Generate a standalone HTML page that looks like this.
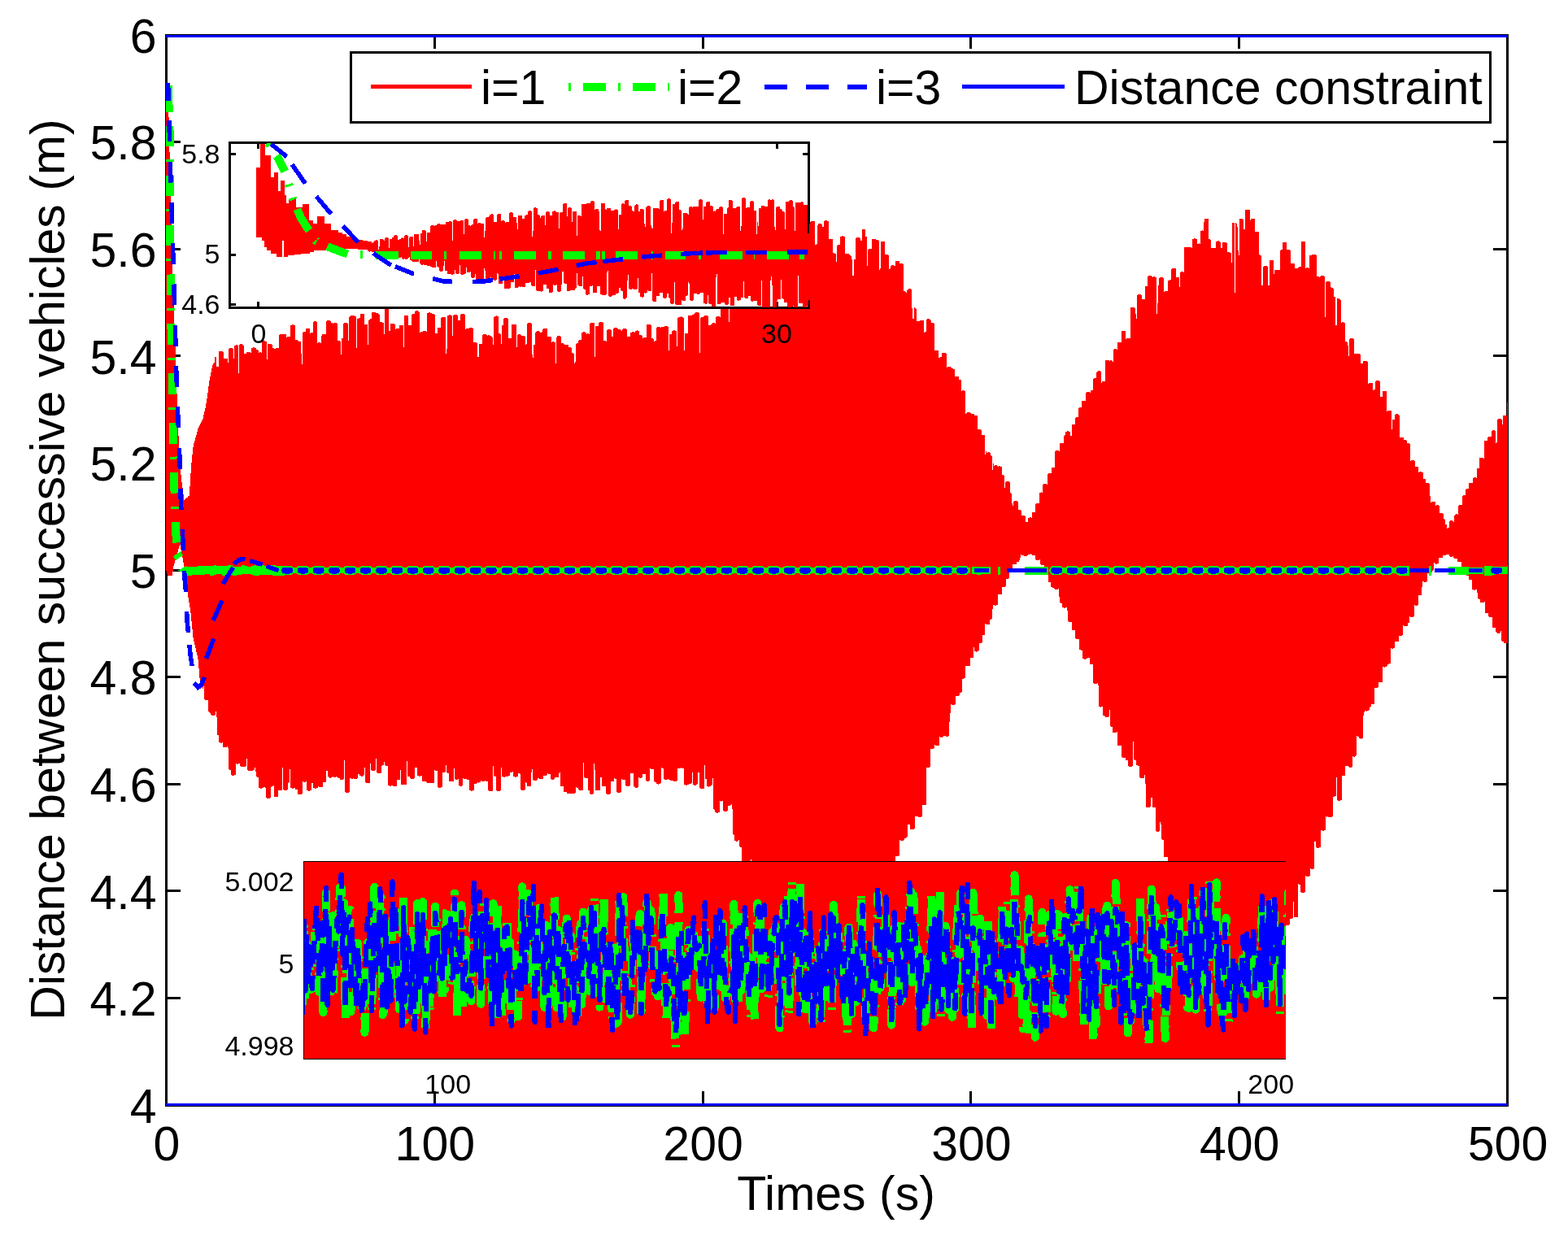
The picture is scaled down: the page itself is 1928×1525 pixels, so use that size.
<!DOCTYPE html>
<html lang="en"><head><meta charset="utf-8"><title>Distance between successive vehicles</title>
<style>
html,body{margin:0;padding:0;background:#fff;}
body{width:1928px;height:1525px;overflow:hidden;font-family:"Liberation Sans",sans-serif;}
svg{display:block;}
</style></head><body>
<svg width="1928" height="1525" viewBox="0 0 1928 1525" shape-rendering="crispEdges">
<rect width="1928" height="1525" fill="#fff"/>
<rect x="204.5" y="43.5" width="1649" height="1316" fill="none" stroke="#000" stroke-width="3"/>
<path d="M534.5 1358V1342M534.5 45V60M864.5 1358V1342M864.5 45V60M1193.5 1358V1342M1193.5 45V60M1523.5 1358V1342M1523.5 45V60M206 1227.5H222M1852 1227.5H1836M206 1095.5H222M1852 1095.5H1836M206 964.5H222M1852 964.5H1836M206 832.5H222M1852 832.5H1836M206 701.5H222M1852 701.5H1836M206 569.5H222M1852 569.5H1836M206 437.5H222M1852 437.5H1836M206 306.5H222M1852 306.5H1836M206 174.5H222M1852 174.5H1836" stroke="#000" stroke-width="3" fill="none"/>
<clipPath id="c0"><rect x="204" y="45" width="1650" height="1314"/></clipPath>
<g clip-path="url(#c0)">
<path id="red" d="M204 108H205V114H206V119H207V144H208V187H209V231H210V274H211V318H212V345H213V372H214V399H215V426H216V455H217V484H218V513H219V536H220V552H221V568H222V584H223V593H224V600H225V608H226V615H227V614H228V613H229V612H231V610H233V598H234V582H235V569H236V559H237V550H238V545H239V542H240V538H241V535H242V531H243V527H244V525H245V523H246V521H247V519H248V517H249V515H250V510H251V506H252V502H253V496H254V490H255V483H256V475H257V468H258V463H259V458H260V453H261V449H262V447H263V446H264V439H266V451H269V432H274V433H275V441H280V446H281V429H282V428H286V429H287V441H288V425H290V424H292V425H293V459H294V424H295V423H298V424H299V425H300V435H303V433H308V434H309V428H311V427H313V428H315V430H317V431H318V434H319V433H321V434H322V420H323V419H326V420H328V442H329V423H334V424H335V428H337V429H339V428H343V412H344V411H352V415H353V414H357V400H359V399H361V400H363V418H366V419H367V420H370V435H371V448H372V409H373V408H376V404H381V410H382V409H385V396H386V395H389V396H390V422H391V421H394V422H395V413H396V411H401V395H402V394H406V395H407V397H409V398H410V397H414V398H415V419H418V420H419V436H420V416H422V398H423V397H427V398H428V419H429V390H430V389H431V388H436V389H438V428H439V392H441V391H443V386H448V399H452V424H453V394H454V393H455V392H457V384H462V385H465V386H466V387H467V396H470V397H472V411H473V380H478V407H480V398H485V399H486V405H487V404H491V400H496V427H497V388H502V400H506V387H507V386H510V383H511V382H514V383H515V384H516V409H517V408H520V407H524V408H525V385H527V384H529V385H531V386H534V387H535V410H538V403H542V391H543V390H548V435H549V429H550V388H552V387H554V388H556V413H557V388H558V387H562V388H563V394H566V387H567V386H571V387H572V405H573V404H577V403H581V404H582V421H586V422H587V439H589V423H593V412H594V411H598V412H599V413H600V412H602V413H604V414H605V415H606V424H607V390H608V389H610V388H611V389H613V410H615V411H616V423H617V400H619V392H620V391H624V392H625V416H629V399H635V427H636V412H637V411H640V412H641V413H645V414H646V424H647V423H648V398H649V397H653V398H654V436H655V440H656V424H658V409H659V408H660V407H663V408H664V409H666V408H667V405H668V404H673V414H678V421H679V420H681V421H683V447H684V415H685V413H689V414H690V422H693V423H694V424H699V427H702V428H703V434H705V435H706V447H707V445H708V423H709V422H711V419H712V418H715V409H717V408H719V409H721V411H722V410H724V411H725V398H726V397H731V439H732V401H736V397H737V396H741V397H742V419H745V420H746V406H747V405H751V406H752V414H754V404H755V403H759V404H760V405H763V406H764V407H765V405H766V404H770V405H771V414H775V409H777V408H780V409H781V407H783V406H784V407H786V412H789V413H790V416H791V415H795V399H800V400H801V416H803V417H804V420H805V419H807V403H808V402H812V403H813V402H817V401H821V402H822V431H823V411H826V407H828V406H830V407H832V426H833V391H834V390H837V389H838V390H840V391H841V431H842V410H846V388H851V387H853V386H854V385H855V384H859V385H860V434H861V391H862V390H865V389H866V388H870V389H871V400H874V399H875V398H876V397H879V398H880V390H881V389H885V390H886V354H887V353H889V348H891V347H893V348H895V349H896V396H897V348H900V349H901V344H902V343H905V344H906V349H909V350H910V349H911V348H914V349H915V337H917V333H918V332H922V333H923V350H927V375H928V350H929V349H933V323H934V322H939V336H940V318H941V317H942V316H945V317H946V355H947V315H949V314H951V315H953V319H958V290H959V289H961V281H962V280H965V281H966V292H967V291H969V292H970V293H971V284H973V283H976V284H977V298H979V299H980V335H981V290H982V289H984V279H986V278H988V279H990V301H991V300H994V301H995V315H996V273H997V272H1002V301H1004V300H1005V277H1006V275H1010V276H1011V279H1013V272H1014V271H1017V272H1019V294H1024V311H1026V312H1028V322H1029V302H1030V301H1033V291H1035V290H1037V291H1039V312H1044V313H1045V314H1046V315H1047V319H1048V339H1050V319H1052V293H1053V292H1057V293H1058V296H1060V282H1064V291H1066V327H1067V307H1068V306H1072V294H1077V295H1080V296H1081V332H1082V330H1083V297H1088V313H1092V314H1093V331H1094V330H1095V327H1096V326H1099V327H1101V321H1106V324H1110V325H1111V358H1113V359H1114V360H1115V357H1116V356H1117V355H1120V356H1121V379H1122V392H1124V378H1125V379H1126V380H1127V395H1131V394H1136V409H1137V408H1139V393H1140V392H1143V393H1144V394H1145V397H1148V398H1149V431H1154V440H1156V439H1158V434H1163V435H1164V452H1165V451H1169V452H1170V453H1172V454H1174V463H1179V467H1182V481H1183V480H1186V481H1187V509H1188V508H1189V507H1193V508H1194V509H1198V511H1202V528H1206V529H1207V535H1211V559H1212V555H1213V557H1214V556H1217V557H1218V560H1219V561H1220V578H1221V570H1222V573H1223V572H1226V573H1227V574H1228V573H1230V574H1232V584H1234V585H1235V600H1236V593H1237V592H1241V593H1242V606H1243V607H1244V619H1245V622H1246V617H1247V616H1251V617H1252V627H1255V628H1256V634H1260V635H1261V642H1264V637H1266V636H1268V637H1269V630H1273V620H1274V619H1278V606H1280V605H1281V606H1282V596H1283V595H1287V596H1288V583H1289V582H1293V575H1297V555H1298V554H1302V555H1303V545H1308V536H1309V535H1310V531H1312V530H1314V531H1316V536H1318V522H1322V514H1323V513H1326V502H1327V501H1330V493H1335V483H1336V482H1340V483H1341V480H1344V466H1345V465H1348V458H1349V457H1350V456H1353V457H1354V471H1355V469H1359V443H1364V444H1365V443H1367V444H1368V445H1369V430H1370V429H1373V430H1374V421H1379V407H1384V417H1385V416H1390V378H1395V379H1396V386H1397V392H1398V363H1399V362H1403V363H1404V368H1408V352H1411V340H1412V339H1416V340H1417V341H1418V340H1420V341H1422V386H1423V373H1424V351H1425V342H1426V341H1430V342H1431V359H1432V358H1436V345H1438V344H1440V331H1441V330H1446V341H1450V353H1451V335H1452V334H1455V335H1456V304H1465V305H1466V294H1468V293H1470V294H1472V300H1474V299H1475V300H1476V284H1478V283H1479V284H1480V273H1481V269H1486V294H1488V295H1489V305H1495V297H1497V296H1499V297H1500V298H1501V305H1503V298H1508V299H1509V310H1512V311H1514V323H1515V274H1518V360H1519V274H1520V275H1521V279H1522V308H1523V314H1524V269H1528V270H1529V282H1531V258H1537V271H1538V269H1543V285H1548V313H1549V314H1551V351H1553V328H1554V327H1558V328H1559V351H1561V320H1566V337H1567V332H1574V308H1575V307H1577V298H1582V307H1586V308H1587V324H1592V330H1596V329H1597V328H1600V297H1605V330H1606V329H1609V330H1610V314H1613V313H1618V314H1619V340H1622V341H1623V340H1624V339H1628V340H1629V390H1630V347H1631V346H1635V347H1636V353H1637V354H1639V355H1640V365H1642V400H1644V367H1647V368H1648V369H1649V397H1650V396H1652V397H1654V420H1656V421H1657V425H1658V438H1659V417H1660V416H1664V417H1665V435H1672V436H1673V447H1676V444H1681V445H1682V472H1683V471H1688V480H1689V479H1691V469H1692V468H1696V469H1697V488H1700V481H1705V506H1706V505H1711V528H1712V516H1715V510H1716V509H1719V510H1720V511H1721V538H1726V541H1729V542H1730V545H1733V546H1734V567H1735V566H1739V567H1740V574H1744V581H1745V580H1748V581H1750V589H1753V594H1757V595H1758V610H1759V618H1760V617H1765V622H1766V621H1769V622H1770V631H1774V632H1775V638H1776V639H1777V645H1779V650H1780V649H1782V641H1783V640H1786V641H1787V642H1788V634H1789V633H1790V632H1792V633H1793V622H1794V621H1798V610H1799V609H1802V602H1803V601H1806V594H1811V588H1812V587H1815V588H1816V576H1819V563H1824V564H1825V542H1829V538H1830V537H1834V530H1835V529H1838V530H1839V545H1840V544H1841V516H1842V515H1846V516H1847V522H1848V511H1853V495H1854V791H1849V789H1847V788H1846V776H1845V778H1844V779H1841V778H1840V777H1839V772H1835V759H1831V758H1830V754H1826V740H1825V741H1820V737H1818V736H1817V729H1816V725H1814V726H1812V725H1810V713H1806V708H1803V699H1801V700H1799V699H1798V698H1797V691H1792V687H1788V686H1787V684H1786V685H1783V684H1782V682H1778V683H1774V686H1769V693H1767V694H1765V693H1764V692H1763V701H1762V702H1761V704H1760V705H1758V706H1757V705H1755V715H1754V716H1751V715H1749V722H1748V732H1744V744H1743V745H1740V744H1739V758H1738V759H1734V758H1733V766H1731V770H1726V769H1725V781H1724V782H1720V789H1715V797H1713V798H1711V797H1710V816H1708V817H1706V819H1705V820H1703V821H1702V820H1700V839H1695V845H1694V846H1690V866H1686V869H1685V870H1684V873H1683V874H1681V875H1680V874H1678V876H1677V880H1676V908H1674V909H1673V908H1671V906H1669V905H1668V929H1667V930H1666V931H1664V930H1663V943H1662V944H1659V943H1658V942H1654V954H1650V984H1648V985H1645V984H1644V956H1643V979H1641V980H1639V1004H1638V1005H1633V1004H1632V1005H1631V1004H1630V1021H1628V1022H1626V1021H1624V1042H1622V1043H1619V1042H1618V1035H1616V1068H1615V1069H1612V1068H1611V1077H1610V1078H1606V1077H1605V1097H1604V1098H1600V1097H1599V1088H1597V1087H1596V1128H1591V1109H1590V1129H1589V1130H1586V1137H1585V1138H1581V1141H1580V1142H1576V1141H1575V1149H1574V1150H1571V1149H1570V1148H1569V1141H1568V1140H1567V1128H1566V1160H1565V1161H1562V1160H1561V1145H1560V1146H1558V1152H1557V1153H1554V1159H1553V1160H1550V1159H1549V1158H1548V1128H1547V1160H1546V1161H1542V1172H1537V1160H1536V1161H1533V1160H1530V1173H1529V1174H1525V1173H1524V1170H1520V1169H1519V1165H1514V1154H1510V1153H1509V1148H1506V1147H1505V1146H1501V1145H1500V1151H1494V1137H1491V1124H1490V1121H1489V1122H1485V1132H1484V1133H1479V1126H1477V1125H1476V1111H1473V1110H1472V1095H1471V1092H1470V1120H1469V1121H1465V1120H1464V1113H1462V1112H1461V1111H1460V1107H1456V1085H1455V1086H1453V1085H1451V1071H1447V1070H1446V1061H1442V1069H1440V1070H1438V1069H1436V1054H1431V1033H1429V1032H1428V1014H1427V1011H1426V1022H1425V1023H1422V1022H1421V993H1417V981H1415V992H1414V993H1409V964H1408V953H1407V957H1402V956H1401V942H1399V941H1397V935H1395V934H1394V912H1393V942H1392V943H1388V942H1387V935H1384V932H1380V931H1379V917H1374V900H1373V901H1368V894H1366V893H1365V873H1364V881H1363V882H1359V881H1358V880H1356V869H1354V870H1353V869H1351V843H1350V840H1349V841H1345V840H1344V817H1340V809H1337V810H1335V811H1333V810H1331V800H1329V799H1327V786H1323V785H1322V775H1318V765H1314V764H1313V751H1312V747H1310V748H1308V747H1306V742H1304V741H1303V734H1302V724H1301V725H1297V724H1296V723H1294V722H1292V716H1289V702H1288V703H1285V702H1284V695H1280V694H1279V688H1278V689H1274V688H1273V683H1269V682H1268V681H1267V682H1264V683H1263V684H1259V683H1256V682H1255V686H1254V689H1253V691H1250V694H1245V702H1241V711H1240V712H1237V721H1236V722H1232V731H1227V744H1225V745H1223V744H1221V749H1220V761H1219V762H1217V768H1212V767H1211V781H1208V790H1207V791H1204V800H1203V801H1201V802H1200V801H1198V796H1197V809H1193V819H1187V834H1185V835H1183V851H1182V852H1180V855H1179V856H1175V866H1174V867H1170V866H1169V877H1168V888H1167V905H1166V906H1163V905H1160V906H1159V907H1156V906H1155V917H1150V916H1149V920H1148V921H1144V943H1143V944H1139V990H1134V1004H1133V1005H1129V1004H1125V1019H1124V1020H1119V1014H1116V1029H1115V1030H1114V1031H1112V1033H1111V1034H1107V1033H1106V1052H1105V1053H1101V1069H1100V1070H1098V1085H1097V1086H1093V1085H1092V1060H1091V1099H1083V1098H1082V1114H1077V1082H1076V1107H1075V1108H1073V1120H1072V1122H1068V1121H1067V1127H1062V1116H1061V1117H1054V1126H1049V1125H1048V1123H1043V1116H1040V1082H1039V1086H1038V1122H1037V1123H1036V1124H1034V1126H1033V1127H1030V1126H1029V1121H1026V1123H1025V1124H1020V1093H1019V1102H1018V1119H1014V1124H1013V1125H1010V1124H1006V1123H1005V1086H1004V1118H999V1110H994V1107H991V1129H989V1130H986V1129H985V1125H982V1124H981V1106H977V1124H973V1123H972V1107H967V1095H964V1094H963V1085H962V1108H957V1109H952V1105H950V1104H948V1075H947V1117H943V1118H942V1119H938V1118H937V1103H935V1104H933V1122H928V1121H927V1089H926V1088H924V1057H923V1071H918V1072H917V1073H914V1072H912V1042H910V1041H909V1033H908V1034H907V1035H905V1034H903V1027H902V1026H901V995H900V989H899V990H898V991H895V997H894V998H890V997H889V985H887V986H886V985H885V999H883V1000H881V999H879V996H878V995H877V957H876V965H875V966H874V967H872V968H871V967H869V958H867V941H866V970H861V969H860V950H858V964H857V965H856V966H853V965H852V950H851V963H850V964H847V965H845V966H843V965H841V945H838V944H837V945H833V960H832V961H828V960H824V959H822V958H821V959H817V958H816V945H814V944H813V963H812V964H810V965H809V964H807V962H805V961H804V946H800V945H799V960H798V961H795V960H794V952H790V956H789V957H786V956H785V968H784V969H781V968H780V967H779V951H775V966H774V967H770V966H769V959H765V958H764V974H763V975H759V974H758V958H756V957H755V961H751V976H750V977H746V976H745V967H740V956H738V972H732V947H731V939H730V976H729V977H726V976H725V972H723V957H719V956H718V938H717V972H712V971H711V969H709V968H708V975H707V976H697V974H693V967H689V950H688V951H687V956H682V958H681V959H678V958H677V952H674V951H673V953H672V954H668V958H663V957H661V959H660V960H656V959H655V946H654V950H653V967H648V963H647V962H646V971H645V972H641V971H640V952H639V951H637V955H635V956H633V955H631V949H630V950H627V954H625V955H621V956H619V955H617V944H616V972H615V973H611V972H610V955H608V954H607V942H606V973H601V972H600V961H597V960H596V961H592V960H591V962H589V963H588V962H587V963H586V964H583V972H581V973H579V972H577V959H574V958H570V957H569V966H568V967H565V966H564V958H563V959H560V958H559V945H558V961H552V951H550V950H549V941H548V949H547V950H544V968H542V969H539V968H538V948H535V947H534V963H525V962H524V961H519V954H517V955H515V954H513V944H510V957H509V958H505V957H504V955H501V936H500V965H493V947H492V959H488V967H483V966H481V967H479V966H477V942H474V941H473V937H472V941H470V942H469V951H464V950H463V933H462V947H461V948H457V947H456V939H455V963H450V962H449V944H448V953H447V954H446V955H444V954H442V952H440V957H439V958H435V957H434V958H432V957H430V974H429V975H425V974H424V935H423V958H422V959H418V957H416V956H414V955H413V956H410V955H409V956H407V957H405V956H404V955H403V948H401V962H397V968H392V967H391V969H389V970H387V969H385V963H383V972H381V973H379V972H377V961H376V962H373V961H372V976H371V977H366V971H363V969H361V970H359V969H357V946H356V962H355V963H354V971H353V972H349V971H348V944H347V972H342V980H337V966H336V967H334V968H333V981H332V982H328V981H327V969H326V968H324V969H322V970H320V969H318V956H316V955H315V949H314V944H313V947H311V948H305V947H304V933H303V942H302V943H296V942H295V939H293V940H291V939H290V953H288V954H285V953H284V947H282V946H281V920H280V918H279V919H274V913H273V914H271V913H269V904H267V882H266V875H265V879H264V880H260V879H259V877H258V876H257V875H256V861H252V860H251V844H250V847H249V844H248V841H247V838H246V834H245V822H244V811H243V806H242V802H241V797H240V793H239V789H238V784H237V774H236V764H235V754H234V747H233V741H232V735H231V728H230V720H229V712H228V704H227V697H226V692H225V686H224V681H223V676H222V670H221V672H220V675H219V679H218V682H217V686H216V689H215V693H214V696H213V703H212V708H206V706H205V702H204Z" fill="#f00"/>
<path d="M206.7 105.0L207.8 138.0M208.3 154.8L208.5 160.0L208.5 180.3M207.7 135.3L207.8 138.3M208.5 215.7L208.5 220.0L208.7 241.2M208.5 196.2L208.5 199.2M208.9 276.6L209.0 290.0L209.1 302.1M208.8 257.1L208.8 260.1M209.6 337.5L209.7 350.0L209.9 363.0M209.3 318.0L209.4 321.0M210.4 398.4L210.6 410.0L210.9 423.9M210.1 378.9L210.2 381.9M211.6 459.3L211.8 470.0L212.0 484.8M211.2 439.8L211.3 442.8M212.6 520.2L212.8 530.0L213.1 545.7M212.3 500.7L212.4 503.7M213.9 581.1L214.2 593.0L214.6 606.6M213.5 561.6L213.6 564.6M215.8 642.0L216.2 655.0L217.2 667.5M215.2 622.5L215.2 625.5" stroke="#0f0" stroke-width="10" fill="none"/>
<path d="M214.5 686.5L223.5 680.5" stroke="#0f0" stroke-width="6" fill="none"/>
<path d="M219 701.5L229 696V707Z" fill="#0f0"/>
<path d="M228 697H243V696H263V695H266V696H280V695H286V697H297V695H301V696H304V697H309V696H312V695H315V696H319V695H325V696H330V695H339V696H350V708H335V707H319V708H312V707H309V706H297V707H291V708H286V707H280V708H273V706H266V707H263V708H258V706H252V707H236V708H228ZM1195 697H1218V706H1206V707H1201V706H1195ZM1834 697H1853V696H1854V706H1839V707H1834Z" fill="#0f0"/>
<path d="M350 701.5H1193M1293 701.5H1720" stroke="#0f0" stroke-width="7.5" fill="none"/>
<path d="M350 701.5H1192M1296 701.5H1722" stroke="#0f0" stroke-width="11.6" stroke-linecap="round" stroke-dasharray="6.3 13" fill="none"/>
<path d="M1226.5 696.5h3.5v10h-3.5zM1260 696.5h28.5v10h-28.5zM1720 695.5h13v12h-13zM1757 695.5h3v12h-3zM1781 696.5h25v10h-25zM1824.5 695.5h10v12h-10zM1806 697.5h18v8h-18z" fill="#0f0"/>
<path d="M206.6 102.0L207.2 124.0M207.8 148.3L208.6 174.3M209.3 198.6L209.6 211.0L210.1 224.6M210.9 248.9L211.3 262.0L211.7 274.9M212.4 299.2L212.8 312.0L213.2 325.2M213.8 349.5L214.2 363.0L214.6 375.5M215.3 399.8L215.7 413.0L216.0 425.8M216.6 450.1L217.0 464.0L217.5 476.1M218.4 500.4L218.9 514.0L219.4 526.4M220.4 550.7L221.0 565.0L221.3 576.7M221.9 601.0L222.3 615.0L222.9 627.0M224.2 651.3L224.9 665.0L225.5 677.3M226.6 701.6L227.0 711.0L228.3 725.0L228.4 727.6M229.6 751.9L230.2 765.0L231.5 777.9M232.9 793.0L234.2 806.0L236.1 819.0M238.5 840L243.5 845.5L247.5 842L251.5 833M253.5 810L262.8 785.5M262.2 763L273 738.7M274.2 718L286.7 697.7M287.9 694Q294 686.5 301.6 687.6M307.3 689.7L322.7 694.2M327.2 696.5L342.6 701.5" stroke="#00f" stroke-width="5.5" fill="none"/>
<path d="M350 701.5H1192M1296 701.5H1730M1837 701.5H1853" stroke="#00f" stroke-width="8" stroke-linecap="round" stroke-dasharray="5.6 13.7" stroke-dashoffset="-0.35" fill="none"/>
<path d="M1198 701.5H1216M1237.5 701.7H1286.5M1733 701.7H1757M1763.5 701.7H1788.6M1806 701.7H1823.4" stroke="#00f" stroke-width="5.4" fill="none"/>
</g>
<path d="M204 44.5H1854M204 1358.5H1854" stroke="#00f" stroke-width="3" fill="none"/>
<g font-family="'Liberation Sans', sans-serif" font-size="59.0" fill="#000">
<text x="205.0" y="1427" text-anchor="middle">0</text>
<text x="534.8" y="1427" text-anchor="middle">100</text>
<text x="864.6" y="1427" text-anchor="middle">200</text>
<text x="1194.4" y="1427" text-anchor="middle">300</text>
<text x="1524.2" y="1427" text-anchor="middle">400</text>
<text x="1854.0" y="1427" text-anchor="middle">500</text>
<text x="192.5" y="1380.8" text-anchor="end">4</text>
<text x="192.5" y="1249.2" text-anchor="end">4.2</text>
<text x="192.5" y="1117.6" text-anchor="end">4.4</text>
<text x="192.5" y="986.0" text-anchor="end">4.6</text>
<text x="192.5" y="854.4" text-anchor="end">4.8</text>
<text x="192.5" y="722.8" text-anchor="end">5</text>
<text x="192.5" y="591.2" text-anchor="end">5.2</text>
<text x="192.5" y="459.6" text-anchor="end">5.4</text>
<text x="192.5" y="328.0" text-anchor="end">5.6</text>
<text x="192.5" y="196.4" text-anchor="end">5.8</text>
<text x="192.5" y="64.8" text-anchor="end">6</text>
<text x="1028" y="1488" text-anchor="middle">Times (s)</text>
<text transform="translate(78.7,700.5) rotate(-90)" text-anchor="middle">Distance between successive vehicles (m)</text>
</g>
<g id="legend">
<rect x="431.5" y="64.5" width="1401" height="86" fill="#fff" stroke="#000" stroke-width="3"/>
<path d="M456 106.5H580" stroke="#f00" stroke-width="5"/>
<path d="M699 107H823" stroke="#0f0" stroke-width="10" stroke-dasharray="3 15 28 15"/>
<path d="M940 106.5H1066" stroke="#00f" stroke-width="6" stroke-dasharray="28 23"/>
<path d="M1183 106.5H1309" stroke="#00f" stroke-width="5"/>
<g font-family="'Liberation Sans', sans-serif" font-size="59.0" fill="#000">
<text x="591" y="128">i=1</text>
<text x="833" y="128">i=2</text>
<text x="1077" y="128">i=3</text>
<text x="1321" y="128">Distance constraint</text>
</g></g>
<g id="inset1">
<rect x="282.5" y="175.5" width="712.0" height="203.0" fill="#fff" stroke="#000" stroke-width="3"/>
<path d="M317.5 177V183M955.5 177V183M317.5 377V371M955.5 377V371M284 189.5H290M284 313.5H290M284 374.5H290M993 189.5H987M993 313.5H987M993 374.5H987" stroke="#000" stroke-width="3" fill="none"/>
<clipPath id="c1"><rect x="282" y="176" width="714" height="202"/></clipPath>
<g clip-path="url(#c1)">
<path d="M315 206H320V177H326V191H333V218H337V212H342V235H345V222H350V240H352V250H355V244H364V255H372V251H380V271H385V275H390V266H399V275H407V283H416V286H421V288H426V291H432V293H438V295H446V296H452V297H457V299H458V298H460V296H462V295H464V296H465V307H466V303H467V294H471V295H472V296H473V293H474V292H477V293H478V305H479V294H482V292H484V290H485V289H488V290H489V295H491V294H493V293H494V292H495V293H497V290H498V289H501V290H502V304H503V292H504V291H508V303H509V288H515V296H516V301H517V287H519V283H523V284H524V297H525V286H529V278H530V277H534V278H535V277H537V276H538V275H541V276H548V273H552V272H555V273H556V296H557V271H558V270H561V271H562V272H566V271H570V288H571V270H572V269H575V270H576V277H578V278H579V277H580V276H582V270H583V269H587V275H588V274H591V275H595V292H596V284H597V268H598V267H601V266H602V264H604V263H606V264H607V273H611V264H612V263H616V272H617V271H620V272H621V274H622V273H626V262H627V261H630V262H631V267H635V274H636V282H637V265H642V269H645V265H647V264H649V260H650V259H653V260H654V291H655V284H656V256H657V255H659V256H661V264H663V265H664V268H665V266H666V265H670V277H671V261H672V260H675V261H676V265H679V260H681V259H683V260H684V261H687V281H688V262H689V261H692V251H693V250H697V266H698V256H699V255H702V256H703V273H704V260H709V290H710V265H714V266H715V251H721V250H726V248H727V247H730V248H731V258H732V257H736V260H737V283H738V284H739V250H744V257H745V258H746V256H751V259H755V258H757V257H758V258H760V282H761V264H764V251H765V250H767V251H768V247H769V246H773V253H776V254H777V259H778V260H780V253H781V252H782V251H784V252H785V260H787V257H791V258H792V275H793V279H794V255H795V254H796V253H799V254H800V277H801V280H802V281H803V256H810V257H811V247H812V246H816V260H817V259H820V245H821V244H824V245H825V287H826V274H827V251H830V249H831V248H835V258H837V259H838V283H839V281H840V262H845V263H846V264H847V255H848V254H851V255H852V254H859V246H860V245H863V246H864V270H865V254H868V249H869V248H873V253H876V254H877V260H878V259H879V260H880V258H881V257H884V255H885V254H888V255H889V288H890V263H894V256H895V255H896V246H900V247H901V256H905V255H906V254H910V284H911V278H912V244H913V243H916V244H917V256H918V255H922V248H923V247H926V248H927V259H930V288H931V273H932V278H933V256H936V253H940V254H944V246H945V245H947V246H949V245H951V246H952V279H953V283H954V255H955V254H959V257H961V258H962V260H964V261H965V282H966V248H970V247H971V246H974V247H975V254H976V255H977V284H978V249H985V248H987V249H988V252H993V287H995V275H996V370H995V369H994V375H993V376H992V383H987V373H982V339H981V384H980V385H977V384H976V376H975V377H973V378H969V377H968V372H964V368H963V367H961V344H960V368H956V370H955V381H954V382H950V351H949V340H948V345H947V381H946V382H943V381H942V379H941V380H937V345H936V376H932V375H931V370H926V371H924V370H923V364H920V367H916V366H915V346H914V366H911V369H909V370H907V369H906V365H903V376H898V366H896V374H895V375H892V374H891V372H887V373H886V374H882V337H881V341H880V377H878V378H877V377H875V374H872V373H871V363H870V373H869V374H867V373H865V360H861V361H860V362H857V361H853V369H852V370H849V369H848V349H847V347H846V363H845V364H843V370H839V369H838V375H831V374H830V347H829V373H828V374H825V373H824V367H823V366H822V361H820V366H819V367H816V366H815V360H811V364H807V371H803V370H802V336H801V358H797V357H796V360H794V361H793V360H792V365H791V366H789V365H787V360H785V342H784V355H783V356H779V355H777V356H774V355H773V338H772V345H771V366H770V367H769V368H767V367H766V358H764V357H763V354H761V360H760V361H757V363H753V364H752V365H749V364H748V333H747V335H746V362H745V363H740V362H738V352H734V360H729V351H728V352H725V362H723V363H721V362H720V356H718V355H717V340H716V352H712V351H710V336H709V354H708V355H707V357H701V358H697V349H694V348H693V334H691V350H690V358H689V359H686V358H685V350H684V351H681V350H680V359H679V360H675V355H672V350H668V358H666V359H665V358H660V357H659V332H658V352H654V351H653V347H651V348H646V353H642V352H641V353H639V352H638V353H637V354H633V337H632V347H628V354H627V355H620V344H618V349H613V337H612V336H611V344H610V345H607V344H606V342H604V341H603V343H602V344H599V343H597V333H596V330H595V344H594V345H591V344H590V345H586V344H585V337H584V341H583V342H580V341H579V334H578V335H574V329H573V336H572V337H570V338H567V337H566V326H565V336H564V337H561V336H560V332H559V337H557V338H555V337H550V333H547V321H546V327H545V333H544V334H541V333H540V329H539V328H537V321H536V329H531V328H529V327H525V326H521V325H520V326H518V325H517V324H516V319H515V322H507V321H506V320H504V316H503V317H502V318H501V319H498V318H497V319H495V318H494V316H493V317H488V316H484V315H480V314H479V313H478V314H475V313H473V312H471V310H470V311H467V310H466V313H465V310H464V311H463V310H457V309H455V310H454V309H452V307H440V306H420V307H400V308H386V310H381V312H370V313H362V314H354V316H349V296H347V316H340V312H333V308H328V304H325V296H322V292H315Z" fill="#f00"/>
<path d="M340.3 191.6L341.0 192.6L350.2 211.0M355.0 226.4L355.9 229.3M359.8 243.0L360.2 244.4L360.7 245.6M365.5 257.2L369.8 267.5L379.4 282.8L380.0 283.6M388.4 295.4L389.0 296.2L389.6 296.5M402.4 303.0L404.3 304.0L427.4 312.6L427.4 312.6M442.8 313.2L445.8 313.3M462.0 313.5L489.7 313.5M505.0 313.5L531.0 313.5M545.5 313.5L548.5 313.5M564.6 313.5L592.4 313.5M606.5 313.5L609.0 313.5M614.0 313.5L616.5 313.5M632.0 313.5L658.8 313.5M673.8 313.5L677.6 313.5M691.8 313.5L719.2 313.5M732.7 313.5L737.5 313.5M740.3 313.5L744.2 313.5M756.7 313.5L783.5 313.5M800.8 313.5L802.7 313.5M818.0 313.5L843.0 313.5M859.3 313.5L862.2 313.5M885.2 313.5L913.0 313.5M926.5 313.5L928.4 313.5M942.8 313.5L969.7 313.5M983.0 313.5L989.0 313.5" stroke="#0f0" stroke-width="10" fill="none"/>
<path d="M327.5 180.5L332 175.5" stroke="#0f0" stroke-width="4" fill="none"/>
<path d="M333.3 177.0L352.5 192.6L352.5 192.6M359.2 202.3L373.6 223.3L375.5 225.6M389.0 241.6L404.3 259.8L407.2 262.9M421.6 278.0L438.9 296.2L440.8 297.6M459.0 311.3L461.9 313.5L479.2 325.0L481.1 325.8M485.9 327.7L508.0 336.6L508.9 336.8M532.0 342.7L544.4 345.8L556.0 346.3M580.9 346.5L596.2 345.8L605.8 344.4M614.5 343.2L634.6 340.4L638.6 339.7M661.7 335.8L674.0 333.7L686.6 331.1M708.7 326.5L721.0 324.0L733.6 322.5M741.3 321.6L752.8 320.2L766.2 318.7M789.3 316.2L800.8 315.0L814.2 314.1M837.3 312.5L850.7 311.6L864.1 311.1M868.0 311.0L879.5 310.6L893.9 310.5M916.9 310.4L942.8 310.3M967.7 310.1L992.7 310.0" stroke="#00f" stroke-width="5.5" fill="none"/>
</g>
<g font-family="'Liberation Sans', sans-serif" font-size="34.0" fill="#000">
<text x="270.5" y="201" text-anchor="end">5.8</text>
<text x="270.5" y="324.3" text-anchor="end">5</text>
<text x="270.5" y="386" text-anchor="end">4.6</text>
<text x="318" y="422" text-anchor="middle">0</text>
<text x="955" y="422" text-anchor="middle">30</text>
</g></g>
<g id="inset2">
<rect x="373" y="1059" width="1208" height="244" fill="#000"/>
<rect x="374" y="1060" width="1207" height="242" fill="#f00"/>
<clipPath id="c2"><rect x="374" y="1060" width="1207" height="242"/></clipPath>
<g clip-path="url(#c2)" fill="none" stroke-linejoin="round">
<path d="M372.0 1235.5L373.7 1135.5L375.4 1228.9L377.1 1160.8L378.8 1208.2L380.5 1168.8L382.2 1216.9L383.9 1205.5L385.6 1202.4L387.3 1139.5L389.0 1138.0L390.7 1157.3L392.4 1219.8L394.1 1180.0L395.8 1142.0L397.5 1245.5L399.2 1199.7L400.9 1098.0L402.6 1221.2L404.3 1129.2L406.0 1230.3L407.7 1117.9L409.4 1226.4L411.1 1186.9L412.8 1119.3L414.5 1172.3L416.2 1146.3L417.9 1091.7L419.6 1092.2L421.3 1156.6L423.0 1110.4L424.7 1254.6L426.4 1144.7L428.1 1108.7L429.8 1114.6L431.5 1244.1L433.2 1154.9L434.9 1159.0L436.6 1216.0L438.3 1223.4L440.0 1159.8L441.7 1229.6L443.4 1230.6L445.1 1244.7L446.8 1218.8L448.5 1269.8L450.2 1173.3L451.9 1159.4L453.6 1195.9L455.3 1139.3L457.0 1244.3L458.7 1197.2L460.4 1090.8L462.1 1185.4L463.8 1131.2L465.5 1152.6L467.2 1103.4L468.9 1104.5L470.6 1248.0L472.3 1242.8L474.0 1143.9L475.7 1196.5L477.4 1218.6L479.1 1190.2L480.8 1231.5L482.5 1130.9L484.2 1149.2L485.9 1138.2L487.6 1122.0L489.3 1172.8L491.0 1241.0L492.7 1181.5L494.4 1234.2L496.1 1100.4L497.8 1254.8L499.5 1166.2L501.2 1161.8L502.9 1196.9L504.6 1209.3L506.3 1196.7L508.0 1135.8L509.7 1255.6L511.4 1254.9L513.1 1111.2L514.8 1233.8L516.5 1120.3L518.2 1234.5L519.9 1109.1L521.6 1197.5L523.3 1265.9L525.0 1182.8L526.7 1185.6L528.4 1246.4L530.1 1170.2L531.8 1137.6L533.5 1203.7L535.2 1114.8L536.9 1128.9L538.6 1197.3L540.3 1186.7L542.0 1202.4L543.7 1229.9L545.4 1146.7L547.1 1217.0L548.8 1121.3L550.5 1117.1L552.2 1154.9L553.9 1145.7L555.6 1214.4L557.3 1184.0L559.0 1098.5L560.7 1143.0L562.4 1249.8L564.1 1172.7L565.8 1178.9L567.5 1113.2L569.2 1240.7L570.9 1206.8L572.6 1156.2L574.3 1177.2L576.0 1195.2L577.7 1200.2L579.4 1231.0L581.1 1142.6L582.8 1128.4L584.5 1139.1L586.2 1161.6L587.9 1129.7L589.6 1130.7L591.3 1234.8L593.0 1115.9L594.7 1110.0L596.4 1146.1L598.1 1125.2L599.8 1194.8L601.5 1156.9L603.2 1183.9L604.9 1232.5L606.6 1111.2L608.3 1236.6L610.0 1256.2L611.7 1111.7L613.4 1216.5L615.1 1176.0L616.8 1254.4L618.5 1221.3L620.2 1173.2L621.9 1145.3L623.6 1129.5L625.3 1174.6L627.0 1158.5L628.7 1254.9L630.4 1208.4L632.1 1173.3L633.8 1185.9L635.5 1166.6L637.2 1250.4L638.9 1180.1L640.6 1200.5L642.3 1090.3L644.0 1135.9L645.7 1206.6L647.4 1115.9L649.1 1098.6L650.8 1143.5L652.5 1132.5L654.2 1212.9L655.9 1125.3L657.6 1219.9L659.3 1120.5L661.0 1214.0L662.7 1116.8L664.4 1152.8L666.1 1153.1L667.8 1194.6L669.5 1238.7L671.2 1137.8L672.9 1205.6L674.6 1236.2L676.3 1143.2L678.0 1166.2L679.7 1211.1L681.4 1101.3L683.1 1135.0L684.8 1239.2L686.5 1144.0L688.2 1224.0L689.9 1233.3L691.6 1250.5L693.3 1171.0L695.0 1170.2L696.7 1129.5L698.4 1194.6L700.1 1151.3L701.8 1150.8L703.5 1239.9L705.2 1207.3L706.9 1232.2L708.6 1243.7L710.3 1246.8L712.0 1159.8L713.7 1136.3L715.4 1235.1L717.1 1121.6L718.8 1145.5L720.5 1213.4L722.2 1203.1L723.9 1218.6L725.6 1139.3L727.3 1117.9L729.0 1211.1L730.7 1102.7L732.4 1187.4L734.1 1175.6L735.8 1177.3L737.5 1238.7L739.2 1125.7L740.9 1171.2L742.6 1100.5L744.3 1228.7L746.0 1158.0L747.7 1212.8L749.4 1188.6L751.1 1174.3L752.8 1255.4L754.5 1240.3L756.2 1165.4L757.9 1258.8L759.6 1257.0L761.3 1103.5L763.0 1163.8L764.7 1133.3L766.4 1103.3L768.1 1196.0L769.8 1216.6L771.5 1205.4L773.2 1218.4L774.9 1247.6L776.6 1208.0L778.3 1146.8L780.0 1171.0L781.7 1146.6L783.4 1175.2L785.1 1138.3L786.8 1124.1L788.5 1251.1L790.2 1168.2L791.9 1183.2L793.6 1193.7L795.3 1110.2L797.0 1115.9L798.7 1145.3L800.4 1119.8L802.1 1157.6L803.8 1206.6L805.5 1220.0L807.2 1215.4L808.9 1225.2L810.6 1206.5L812.3 1212.6L814.0 1141.9L815.7 1093.6L817.4 1210.8L819.1 1257.9L820.8 1232.1L822.5 1189.1L824.2 1141.0L825.9 1193.0L827.6 1208.3L829.3 1250.4L831.0 1288.7L832.7 1240.4L834.4 1101.1L836.1 1229.2L837.8 1157.4L839.5 1230.2L841.2 1276.2L842.9 1251.1L844.6 1198.3L846.3 1144.0L848.0 1174.6L849.7 1182.4L851.4 1146.4L853.1 1148.7L854.8 1179.5L856.5 1183.7L858.2 1190.0L859.9 1155.5L861.6 1226.7L863.3 1178.1L865.0 1200.4L866.7 1140.1L868.4 1160.0L870.1 1238.1L871.8 1211.9L873.5 1183.6L875.2 1177.8L876.9 1166.9L878.6 1239.7L880.3 1156.5L882.0 1221.4L883.7 1166.4L885.4 1130.9L887.1 1213.9L888.8 1135.6L890.5 1193.7L892.2 1228.1L893.9 1219.1L895.6 1219.6L897.3 1210.6L899.0 1230.5L900.7 1214.5L902.4 1112.0L904.1 1229.5L905.8 1127.4L907.5 1233.3L909.2 1164.0L910.9 1218.3L912.6 1184.9L914.3 1122.0L916.0 1152.9L917.7 1216.0L919.4 1175.9L921.1 1199.8L922.8 1252.6L924.5 1179.0L926.2 1205.3L927.9 1256.5L929.6 1171.0L931.3 1110.7L933.0 1146.4L934.7 1129.1L936.4 1216.2L938.1 1162.3L939.8 1149.1L941.5 1206.9L943.2 1199.7L944.9 1228.3L946.6 1160.6L948.3 1166.5L950.0 1146.0L951.7 1192.3L953.4 1139.4L955.1 1179.5L956.8 1187.4L958.5 1264.5L960.2 1241.7L961.9 1179.9L963.6 1115.4L965.3 1148.0L967.0 1209.8L968.7 1099.0L970.4 1248.9L972.1 1164.6L973.8 1082.8L975.5 1166.4L977.2 1132.8L978.9 1129.2L980.6 1126.4L982.3 1217.0L984.0 1085.9L985.7 1189.4L987.4 1222.0L989.1 1248.6L990.8 1148.4L992.5 1251.2L994.2 1187.5L995.9 1156.2L997.6 1175.3L999.3 1257.2L1001.0 1171.1L1002.7 1195.0L1004.4 1197.8L1006.1 1162.9L1007.8 1182.5L1009.5 1260.1L1011.2 1150.6L1012.9 1141.2L1014.6 1201.5L1016.3 1201.8L1018.0 1226.4L1019.7 1164.0L1021.4 1144.4L1023.1 1243.4L1024.8 1113.1L1026.5 1136.6L1028.2 1165.3L1029.9 1169.1L1031.6 1145.3L1033.3 1158.3L1035.0 1174.6L1036.7 1199.2L1038.4 1172.2L1040.1 1243.7L1041.8 1271.3L1043.5 1140.6L1045.2 1170.0L1046.9 1247.1L1048.6 1151.0L1050.3 1209.3L1052.0 1232.3L1053.7 1163.9L1055.4 1189.2L1057.1 1215.2L1058.8 1098.2L1060.5 1154.2L1062.2 1183.7L1063.9 1247.2L1065.6 1256.2L1067.3 1217.2L1069.0 1185.4L1070.7 1212.4L1072.4 1229.3L1074.1 1264.1L1075.8 1244.2L1077.5 1227.2L1079.2 1100.4L1080.9 1124.9L1082.6 1214.7L1084.3 1182.3L1086.0 1157.1L1087.7 1173.3L1089.4 1127.8L1091.1 1147.4L1092.8 1173.3L1094.5 1161.1L1096.2 1260.7L1097.9 1209.0L1099.6 1134.0L1101.3 1200.3L1103.0 1199.3L1104.7 1138.5L1106.4 1239.0L1108.1 1240.0L1109.8 1202.0L1111.5 1128.7L1113.2 1201.1L1114.9 1173.1L1116.6 1167.6L1118.3 1105.3L1120.0 1096.6L1121.7 1208.3L1123.4 1101.2L1125.1 1143.6L1126.8 1198.7L1128.5 1167.4L1130.2 1238.9L1131.9 1199.5L1133.6 1233.7L1135.3 1219.1L1137.0 1256.6L1138.7 1239.6L1140.4 1174.2L1142.1 1199.8L1143.8 1169.5L1145.5 1097.2L1147.2 1249.6L1148.9 1134.8L1150.6 1187.3L1152.3 1158.3L1154.0 1227.9L1155.7 1092.9L1157.4 1251.6L1159.1 1185.3L1160.8 1196.9L1162.5 1139.0L1164.2 1166.0L1165.9 1241.8L1167.6 1221.3L1169.3 1191.8L1171.0 1250.8L1172.7 1181.8L1174.4 1240.4L1176.1 1152.8L1177.8 1108.1L1179.5 1174.5L1181.2 1098.3L1182.9 1138.1L1184.6 1207.5L1186.3 1220.0L1188.0 1243.6L1189.7 1099.9L1191.4 1212.2L1193.1 1204.7L1194.8 1264.7L1196.5 1097.8L1198.2 1137.3L1199.9 1165.3L1201.6 1138.4L1203.3 1177.7L1205.0 1129.5L1206.7 1207.6L1208.4 1156.1L1210.1 1176.3L1211.8 1180.3L1213.5 1249.2L1215.2 1133.0L1216.9 1162.1L1218.6 1267.4L1220.3 1155.6L1222.0 1186.6L1223.7 1190.8L1225.4 1224.7L1227.1 1210.8L1228.8 1225.1L1230.5 1219.8L1232.2 1109.2L1233.9 1162.3L1235.6 1186.6L1237.3 1142.8L1239.0 1108.4L1240.7 1188.4L1242.4 1166.4L1244.1 1152.3L1245.8 1202.8L1247.5 1076.1L1249.2 1123.2L1250.9 1175.5L1252.6 1230.7L1254.3 1168.1L1256.0 1206.0L1257.7 1265.3L1259.4 1208.3L1261.1 1239.3L1262.8 1272.2L1264.5 1105.5L1266.2 1131.1L1267.9 1208.6L1269.6 1175.9L1271.3 1218.5L1273.0 1275.8L1274.7 1176.1L1276.4 1227.3L1278.1 1219.3L1279.8 1227.9L1281.5 1121.6L1283.2 1198.0L1284.9 1194.0L1286.6 1253.9L1288.3 1181.3L1290.0 1125.1L1291.7 1186.2L1293.4 1151.3L1295.1 1136.1L1296.8 1168.4L1298.5 1243.8L1300.2 1123.9L1301.9 1205.3L1303.6 1126.8L1305.3 1239.1L1307.0 1247.1L1308.7 1174.8L1310.4 1154.6L1312.1 1204.5L1313.8 1102.2L1315.5 1094.3L1317.2 1164.0L1318.9 1159.2L1320.6 1141.9L1322.3 1105.1L1324.0 1187.2L1325.7 1087.7L1327.4 1135.2L1329.1 1131.0L1330.8 1186.0L1332.5 1260.5L1334.2 1161.7L1335.9 1153.2L1337.6 1165.5L1339.3 1238.6L1341.0 1120.3L1342.7 1134.9L1344.4 1281.5L1346.1 1222.4L1347.8 1259.2L1349.5 1180.3L1351.2 1132.6L1352.9 1161.6L1354.6 1188.0L1356.3 1118.5L1358.0 1206.5L1359.7 1119.9L1361.4 1113.6L1363.1 1237.5L1364.8 1175.5L1366.5 1114.9L1368.2 1204.6L1369.9 1220.1L1371.6 1085.9L1373.3 1122.1L1375.0 1160.8L1376.7 1169.2L1378.4 1219.1L1380.1 1139.6L1381.8 1244.9L1383.5 1202.6L1385.2 1137.9L1386.9 1270.4L1388.6 1192.5L1390.3 1255.5L1392.0 1210.8L1393.7 1242.1L1395.4 1170.8L1397.1 1211.3L1398.8 1201.5L1400.5 1240.4L1402.2 1099.7L1403.9 1231.3L1405.6 1235.7L1407.3 1183.2L1409.0 1223.7L1410.7 1265.2L1412.4 1287.2L1414.1 1206.0L1415.8 1093.5L1417.5 1128.6L1419.2 1208.5L1420.9 1116.0L1422.6 1130.3L1424.3 1216.4L1426.0 1170.7L1427.7 1139.3L1429.4 1124.9L1431.1 1229.8L1432.8 1277.1L1434.5 1206.7L1436.2 1217.8L1437.9 1132.1L1439.6 1114.3L1441.3 1155.9L1443.0 1166.1L1444.7 1151.8L1446.4 1128.8L1448.1 1139.6L1449.8 1125.0L1451.5 1190.2L1453.2 1191.6L1454.9 1191.6L1456.6 1204.0L1458.3 1150.0L1460.0 1239.2L1461.7 1239.9L1463.4 1191.4L1465.1 1099.1L1466.8 1099.7L1468.5 1159.5L1470.2 1241.7L1471.9 1112.9L1473.6 1190.6L1475.3 1128.4L1477.0 1221.3L1478.7 1102.6L1480.4 1096.1L1482.1 1175.2L1483.8 1233.6L1485.5 1246.2L1487.2 1083.3L1488.9 1152.8L1490.6 1154.6L1492.3 1157.1L1494.0 1183.4L1495.7 1085.3L1497.4 1208.6L1499.1 1157.6L1500.8 1240.0L1502.5 1246.8L1504.2 1245.9L1505.9 1138.9L1507.6 1129.0L1509.3 1226.4L1511.0 1257.1L1512.7 1193.3L1514.4 1209.3L1516.1 1191.4L1517.8 1218.9L1519.5 1202.6L1521.2 1216.2L1522.9 1216.2L1524.6 1214.4L1526.3 1199.1L1528.0 1178.8L1529.7 1212.5L1531.4 1224.7L1533.1 1161.9L1534.8 1185.6L1536.5 1205.2L1538.2 1175.9L1539.9 1171.9L1541.6 1158.5L1543.3 1194.0L1545.0 1222.7L1546.7 1172.0L1548.4 1205.2L1550.1 1212.2L1551.8 1111.2L1553.5 1225.4L1555.2 1139.5L1556.9 1234.1L1558.6 1186.3L1560.3 1128.6L1562.0 1214.6L1563.7 1110.6L1565.4 1164.0L1567.1 1123.2L1568.8 1182.8L1570.5 1206.3L1572.2 1136.8L1573.9 1248.1L1575.6 1149.0L1577.3 1221.9L1579.0 1143.6L1580.7 1228.3L1582.4 1177.2L1584.1 1097.9L1585.8 1135.5" stroke="#0f0" stroke-width="10" stroke-dasharray="28 12 3 12" stroke-linecap="butt"/>
<path d="M372.0 1248.1L373.7 1124.5L375.4 1218.5L377.1 1152.2L378.8 1211.2L380.5 1164.1L382.2 1206.6L383.9 1216.0L385.6 1173.9L387.3 1145.4L389.0 1114.0L390.7 1150.5L392.4 1200.0L394.1 1205.4L395.8 1135.2L397.5 1238.8L399.2 1160.2L400.9 1092.1L402.6 1235.9L404.3 1135.8L406.0 1209.4L407.7 1157.7L409.4 1217.7L411.1 1192.1L412.8 1153.7L414.5 1130.5L416.2 1145.7L417.9 1107.3L419.6 1075.9L421.3 1173.6L423.0 1116.1L424.7 1242.9L426.4 1131.2L428.1 1133.6L429.8 1127.6L431.5 1222.1L433.2 1143.1L434.9 1173.0L436.6 1198.3L438.3 1240.6L440.0 1163.0L441.7 1211.1L443.4 1217.5L445.1 1249.0L446.8 1209.2L448.5 1228.0L450.2 1163.1L451.9 1130.2L453.6 1164.2L455.3 1111.6L457.0 1243.1L458.7 1193.9L460.4 1134.0L462.1 1192.6L463.8 1128.8L465.5 1184.6L467.2 1093.3L468.9 1116.3L470.6 1245.2L472.3 1212.8L474.0 1127.0L475.7 1238.4L477.4 1193.7L479.1 1201.3L480.8 1230.6L482.5 1084.4L484.2 1147.9L485.9 1109.3L487.6 1156.2L489.3 1210.9L491.0 1237.9L492.7 1199.4L494.4 1261.3L496.1 1116.4L497.8 1231.6L499.5 1199.7L501.2 1152.9L502.9 1167.0L504.6 1244.6L506.3 1215.2L508.0 1167.6L509.7 1265.5L511.4 1204.1L513.1 1124.0L514.8 1214.1L516.5 1137.1L518.2 1209.1L519.9 1124.9L521.6 1183.4L523.3 1269.5L525.0 1165.3L526.7 1219.4L528.4 1214.1L530.1 1204.3L531.8 1154.1L533.5 1219.5L535.2 1123.0L536.9 1135.5L538.6 1179.7L540.3 1197.4L542.0 1176.9L543.7 1203.4L545.4 1143.7L547.1 1185.3L548.8 1130.6L550.5 1142.5L552.2 1163.0L553.9 1130.1L555.6 1202.9L557.3 1202.1L559.0 1105.6L560.7 1180.7L562.4 1195.3L564.1 1159.2L565.8 1187.2L567.5 1122.0L569.2 1216.3L570.9 1202.9L572.6 1183.0L574.3 1218.7L576.0 1218.2L577.7 1198.5L579.4 1224.7L581.1 1156.2L582.8 1085.9L584.5 1139.7L586.2 1193.3L587.9 1152.4L589.6 1097.0L591.3 1215.4L593.0 1125.7L594.7 1127.0L596.4 1156.4L598.1 1107.3L599.8 1199.5L601.5 1161.8L603.2 1133.9L604.9 1268.3L606.6 1147.9L608.3 1231.8L610.0 1209.3L611.7 1134.6L613.4 1248.3L615.1 1167.9L616.8 1218.0L618.5 1192.3L620.2 1143.7L621.9 1140.7L623.6 1139.7L625.3 1212.9L627.0 1168.2L628.7 1261.5L630.4 1197.4L632.1 1190.9L633.8 1203.7L635.5 1212.0L637.2 1214.3L638.9 1187.1L640.6 1221.2L642.3 1108.8L644.0 1136.1L645.7 1212.5L647.4 1167.7L649.1 1146.0L650.8 1105.2L652.5 1160.8L654.2 1160.4L655.9 1089.9L657.6 1256.9L659.3 1146.3L661.0 1210.6L662.7 1140.9L664.4 1132.4L666.1 1114.6L667.8 1179.2L669.5 1221.2L671.2 1145.4L672.9 1202.1L674.6 1267.4L676.3 1146.1L678.0 1166.8L679.7 1199.8L681.4 1125.5L683.1 1128.1L684.8 1202.3L686.5 1139.4L688.2 1225.4L689.9 1254.9L691.6 1208.1L693.3 1169.2L695.0 1141.5L696.7 1136.8L698.4 1229.6L700.1 1128.5L701.8 1160.1L703.5 1217.9L705.2 1184.6L706.9 1258.4L708.6 1250.0L710.3 1260.7L712.0 1159.7L713.7 1143.3L715.4 1218.3L717.1 1129.2L718.8 1165.6L720.5 1173.2L722.2 1171.5L723.9 1200.7L725.6 1176.1L727.3 1116.1L729.0 1234.7L730.7 1122.7L732.4 1184.5L734.1 1169.1L735.8 1188.4L737.5 1229.9L739.2 1148.4L740.9 1168.0L742.6 1143.0L744.3 1192.5L746.0 1172.6L747.7 1240.0L749.4 1170.8L751.1 1154.0L752.8 1266.9L754.5 1207.3L756.2 1190.0L757.9 1238.5L759.6 1256.8L761.3 1100.8L763.0 1189.1L764.7 1115.8L766.4 1138.6L768.1 1228.1L769.8 1204.7L771.5 1239.1L773.2 1221.8L774.9 1245.0L776.6 1231.5L778.3 1134.0L780.0 1177.9L781.7 1147.3L783.4 1173.8L785.1 1137.4L786.8 1140.1L788.5 1246.5L790.2 1171.3L791.9 1186.1L793.6 1200.5L795.3 1101.8L797.0 1160.3L798.7 1142.3L800.4 1129.2L802.1 1185.4L803.8 1209.2L805.5 1219.4L807.2 1215.0L808.9 1189.8L810.6 1215.9L812.3 1183.2L814.0 1117.6L815.7 1141.2L817.4 1180.5L819.1 1242.0L820.8 1215.3L822.5 1223.0L824.2 1186.5L825.9 1177.6L827.6 1173.5L829.3 1269.7L831.0 1269.8L832.7 1246.0L834.4 1146.4L836.1 1242.1L837.8 1147.8L839.5 1195.0L841.2 1255.7L842.9 1222.1L844.6 1180.2L846.3 1144.6L848.0 1203.3L849.7 1190.6L851.4 1148.0L853.1 1128.5L854.8 1167.0L856.5 1167.6L858.2 1164.7L859.9 1162.5L861.6 1218.3L863.3 1182.0L865.0 1199.1L866.7 1110.1L868.4 1181.3L870.1 1260.1L871.8 1195.4L873.5 1167.3L875.2 1180.5L876.9 1149.2L878.6 1244.7L880.3 1122.7L882.0 1196.0L883.7 1175.4L885.4 1120.1L887.1 1197.0L888.8 1130.0L890.5 1193.9L892.2 1209.5L893.9 1239.7L895.6 1244.9L897.3 1220.8L899.0 1218.8L900.7 1214.3L902.4 1151.8L904.1 1256.0L905.8 1135.8L907.5 1213.1L909.2 1140.9L910.9 1209.4L912.6 1157.6L914.3 1127.5L916.0 1116.3L917.7 1176.4L919.4 1188.6L921.1 1228.1L922.8 1213.9L924.5 1177.2L926.2 1211.9L927.9 1218.9L929.6 1179.5L931.3 1120.1L933.0 1115.0L934.7 1130.6L936.4 1222.5L938.1 1123.9L939.8 1113.5L941.5 1182.3L943.2 1187.8L944.9 1223.6L946.6 1159.7L948.3 1208.5L950.0 1145.3L951.7 1148.3L953.4 1128.6L955.1 1128.4L956.8 1146.9L958.5 1260.2L960.2 1222.0L961.9 1129.1L963.6 1121.0L965.3 1109.2L967.0 1198.9L968.7 1140.2L970.4 1221.4L972.1 1175.6L973.8 1109.0L975.5 1168.8L977.2 1106.3L978.9 1159.9L980.6 1115.5L982.3 1247.3L984.0 1102.1L985.7 1181.6L987.4 1202.9L989.1 1235.4L990.8 1145.4L992.5 1234.6L994.2 1220.4L995.9 1123.2L997.6 1161.6L999.3 1268.0L1001.0 1194.3L1002.7 1232.1L1004.4 1177.6L1006.1 1166.2L1007.8 1183.4L1009.5 1254.5L1011.2 1133.6L1012.9 1128.4L1014.6 1213.0L1016.3 1198.9L1018.0 1201.4L1019.7 1209.6L1021.4 1124.2L1023.1 1230.4L1024.8 1128.8L1026.5 1150.5L1028.2 1172.0L1029.9 1200.7L1031.6 1138.2L1033.3 1176.7L1035.0 1216.7L1036.7 1238.7L1038.4 1172.9L1040.1 1218.8L1041.8 1230.7L1043.5 1136.2L1045.2 1155.9L1046.9 1246.7L1048.6 1176.0L1050.3 1208.9L1052.0 1227.7L1053.7 1161.1L1055.4 1198.6L1057.1 1229.7L1058.8 1138.5L1060.5 1113.0L1062.2 1223.6L1063.9 1274.3L1065.6 1255.9L1067.3 1210.7L1069.0 1160.6L1070.7 1180.9L1072.4 1229.4L1074.1 1255.5L1075.8 1233.5L1077.5 1202.2L1079.2 1088.5L1080.9 1126.7L1082.6 1222.0L1084.3 1195.3L1086.0 1139.4L1087.7 1193.9L1089.4 1103.3L1091.1 1146.3L1092.8 1150.6L1094.5 1179.8L1096.2 1262.7L1097.9 1171.8L1099.6 1122.2L1101.3 1162.0L1103.0 1194.9L1104.7 1159.0L1106.4 1233.6L1108.1 1225.8L1109.8 1208.9L1111.5 1131.8L1113.2 1227.3L1114.9 1134.1L1116.6 1177.9L1118.3 1085.7L1120.0 1115.2L1121.7 1198.8L1123.4 1123.2L1125.1 1141.1L1126.8 1178.7L1128.5 1180.6L1130.2 1265.4L1131.9 1175.3L1133.6 1215.8L1135.3 1242.5L1137.0 1218.2L1138.7 1236.7L1140.4 1182.1L1142.1 1176.7L1143.8 1171.4L1145.5 1138.6L1147.2 1250.2L1148.9 1130.5L1150.6 1229.2L1152.3 1130.6L1154.0 1225.7L1155.7 1122.3L1157.4 1241.5L1159.1 1225.5L1160.8 1178.2L1162.5 1152.7L1164.2 1136.7L1165.9 1236.9L1167.6 1168.0L1169.3 1176.1L1171.0 1221.8L1172.7 1183.6L1174.4 1240.3L1176.1 1165.4L1177.8 1120.0L1179.5 1126.0L1181.2 1140.1L1182.9 1084.7L1184.6 1178.3L1186.3 1246.8L1188.0 1202.4L1189.7 1087.7L1191.4 1217.9L1193.1 1201.8L1194.8 1252.0L1196.5 1141.2L1198.2 1160.0L1199.9 1157.8L1201.6 1156.9L1203.3 1156.9L1205.0 1145.4L1206.7 1245.6L1208.4 1158.7L1210.1 1149.6L1211.8 1190.6L1213.5 1209.1L1215.2 1137.6L1216.9 1166.8L1218.6 1266.0L1220.3 1148.4L1222.0 1219.8L1223.7 1153.9L1225.4 1215.5L1227.1 1213.9L1228.8 1226.4L1230.5 1240.4L1232.2 1116.3L1233.9 1175.4L1235.6 1208.6L1237.3 1142.6L1239.0 1144.4L1240.7 1223.9L1242.4 1148.0L1244.1 1142.9L1245.8 1199.4L1247.5 1109.0L1249.2 1112.0L1250.9 1147.5L1252.6 1199.5L1254.3 1190.0L1256.0 1188.6L1257.7 1207.9L1259.4 1203.6L1261.1 1226.9L1262.8 1213.0L1264.5 1134.0L1266.2 1128.2L1267.9 1176.3L1269.6 1159.6L1271.3 1239.3L1273.0 1262.0L1274.7 1162.1L1276.4 1194.8L1278.1 1201.9L1279.8 1267.7L1281.5 1152.7L1283.2 1201.5L1284.9 1179.4L1286.6 1262.2L1288.3 1154.0L1290.0 1135.5L1291.7 1170.6L1293.4 1103.3L1295.1 1138.8L1296.8 1176.5L1298.5 1214.0L1300.2 1154.9L1301.9 1219.5L1303.6 1167.1L1305.3 1235.3L1307.0 1205.9L1308.7 1130.7L1310.4 1164.8L1312.1 1221.4L1313.8 1105.5L1315.5 1137.4L1317.2 1158.7L1318.9 1119.7L1320.6 1127.1L1322.3 1129.3L1324.0 1177.7L1325.7 1120.3L1327.4 1121.2L1329.1 1086.7L1330.8 1131.9L1332.5 1247.6L1334.2 1179.9L1335.9 1144.7L1337.6 1148.4L1339.3 1253.7L1341.0 1169.7L1342.7 1112.1L1344.4 1226.5L1346.1 1188.1L1347.8 1238.0L1349.5 1124.9L1351.2 1157.2L1352.9 1138.2L1354.6 1155.5L1356.3 1127.2L1358.0 1207.2L1359.7 1127.8L1361.4 1123.4L1363.1 1208.3L1364.8 1177.6L1366.5 1132.9L1368.2 1174.5L1369.9 1236.1L1371.6 1117.7L1373.3 1121.7L1375.0 1141.5L1376.7 1187.3L1378.4 1257.5L1380.1 1118.8L1381.8 1246.8L1383.5 1232.2L1385.2 1137.9L1386.9 1245.6L1388.6 1237.1L1390.3 1257.0L1392.0 1244.8L1393.7 1238.2L1395.4 1162.3L1397.1 1215.1L1398.8 1211.9L1400.5 1255.4L1402.2 1124.8L1403.9 1214.2L1405.6 1233.7L1407.3 1182.6L1409.0 1258.6L1410.7 1267.9L1412.4 1262.4L1414.1 1199.1L1415.8 1103.9L1417.5 1122.3L1419.2 1170.7L1420.9 1151.8L1422.6 1138.5L1424.3 1172.2L1426.0 1192.9L1427.7 1139.2L1429.4 1146.0L1431.1 1234.6L1432.8 1248.5L1434.5 1244.5L1436.2 1227.3L1437.9 1142.3L1439.6 1103.3L1441.3 1168.9L1443.0 1149.1L1444.7 1138.8L1446.4 1109.0L1448.1 1135.6L1449.8 1113.9L1451.5 1210.9L1453.2 1193.5L1454.9 1229.9L1456.6 1189.9L1458.3 1147.3L1460.0 1205.9L1461.7 1223.9L1463.4 1176.6L1465.1 1090.2L1466.8 1119.7L1468.5 1143.8L1470.2 1238.9L1471.9 1134.0L1473.6 1221.4L1475.3 1161.5L1477.0 1191.1L1478.7 1090.5L1480.4 1134.8L1482.1 1131.2L1483.8 1242.9L1485.5 1260.5L1487.2 1087.9L1488.9 1176.1L1490.6 1143.2L1492.3 1134.9L1494.0 1144.6L1495.7 1125.1L1497.4 1219.6L1499.1 1148.7L1500.8 1202.2L1502.5 1252.0L1504.2 1266.6L1505.9 1136.9L1507.6 1160.5L1509.3 1223.0L1511.0 1232.7L1512.7 1185.6L1514.4 1207.0L1516.1 1177.4L1517.8 1248.8L1519.5 1187.6L1521.2 1226.0L1522.9 1201.8L1524.6 1197.1L1526.3 1231.4L1528.0 1152.3L1529.7 1166.3L1531.4 1241.6L1533.1 1148.6L1534.8 1217.0L1536.5 1165.6L1538.2 1157.2L1539.9 1175.1L1541.6 1137.6L1543.3 1219.4L1545.0 1215.4L1546.7 1186.9L1548.4 1166.1L1550.1 1210.2L1551.8 1102.3L1553.5 1202.1L1555.2 1146.4L1556.9 1236.2L1558.6 1154.4L1560.3 1109.8L1562.0 1203.0L1563.7 1129.4L1565.4 1182.9L1567.1 1105.8L1568.8 1144.9L1570.5 1179.1L1572.2 1133.7L1573.9 1235.4L1575.6 1137.6L1577.3 1197.6L1579.0 1160.1L1580.7 1188.9L1582.4 1181.1L1584.1 1141.2L1585.8 1129.9" stroke="#00f" stroke-width="6.3" stroke-dasharray="28 15"/>
</g>
<g font-family="'Liberation Sans', sans-serif" font-size="34.0" fill="#000">
<text x="361.5" y="1096.4" text-anchor="end">5.002</text>
<text x="361.5" y="1197.3" text-anchor="end">5</text>
<text x="361.5" y="1297.6" text-anchor="end">4.998</text>
<text x="550.7" y="1344.6" text-anchor="middle">100</text>
<text x="1562.7" y="1344.6" text-anchor="middle">200</text>
</g></g>
</svg>
</body></html>
